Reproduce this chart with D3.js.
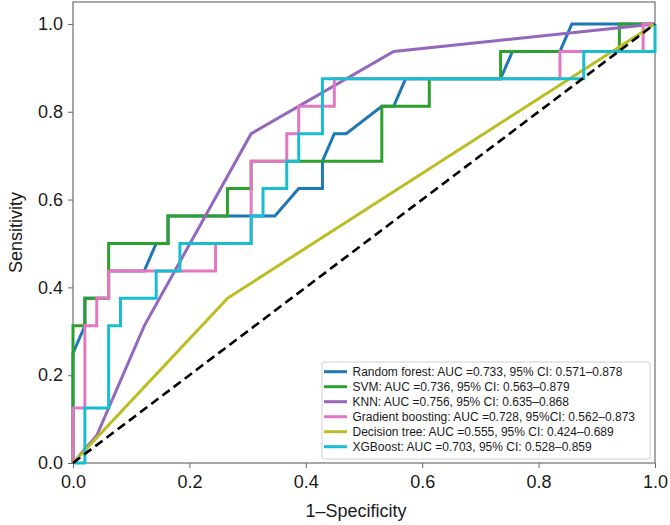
<!DOCTYPE html>
<html>
<head>
<meta charset="utf-8">
<script src="https://cdn.jsdelivr.net/npm/d3@7"></script>
<style>
  html, body { margin: 0; padding: 0; background: #fff; }
  svg { display: block; font-family: "Liberation Sans", Arial, Helvetica, sans-serif; }
</style>
</head>
<body>
<svg id="chart" width="670" height="525"></svg>
<script>
// ---- data ----
const modelNames = ["Random forest", "SVM", "KNN", "Gradient boosting", "Decision tree", "XGBoost"];
const legendLabels = [
  "Random forest: AUC =0.733, 95% CI: 0.571\u20130.878",
  "SVM: AUC =0.736, 95% CI: 0.563\u20130.879",
  "KNN: AUC =0.756, 95% CI: 0.635\u20130.868",
  "Gradient boosting: AUC =0.728, 95%CI: 0.562\u20130.873",
  "Decision tree: AUC =0.555, 95% CI: 0.424\u20130.689",
  "XGBoost: AUC =0.703, 95% CI: 0.528\u20130.859"
];
const colors = ["#1f77b4", "#2ca02c", "#9467bd", "#e377c2", "#bcbd22", "#17becf"];

const rfFpr  = [0, 0, 0.0204, 0.0204, 0.0612, 0.0612, 0.1224, 0.1429, 0.1633, 0.1633, 0.3469, 0.3878, 0.4286, 0.4286, 0.4490, 0.4694, 0.5306, 0.5510, 0.5714, 0.7347, 0.7551, 0.8367, 0.8571, 1];
const rfTpr  = [0, 0.25, 0.3125, 0.375, 0.375, 0.4375, 0.4375, 0.5, 0.5, 0.5625, 0.5625, 0.625, 0.625, 0.6875, 0.75, 0.75, 0.8125, 0.8125, 0.875, 0.875, 0.9375, 0.9375, 1, 1];

const svmFpr = [0, 0, 0.0204, 0.0204, 0.0612, 0.0612, 0.1633, 0.1633, 0.2653, 0.2653, 0.3061, 0.3061, 0.5306, 0.5306, 0.6122, 0.6122, 0.7347, 0.7347, 0.9388, 0.9388, 1];
const svmTpr = [0, 0.3125, 0.3125, 0.375, 0.375, 0.5, 0.5, 0.5625, 0.5625, 0.625, 0.625, 0.6875, 0.6875, 0.8125, 0.8125, 0.875, 0.875, 0.9375, 0.9375, 1, 1];

const knnFpr = [0, 0.0408, 0.1224, 0.3061, 0.5510, 1];
const knnTpr = [0, 0.0625, 0.3125, 0.75, 0.9375, 1];

const gbFpr  = [0, 0, 0.0204, 0.0204, 0.0408, 0.0408, 0.0612, 0.0612, 0.2449, 0.2449, 0.3061, 0.3061, 0.3673, 0.3673, 0.3878, 0.3878, 0.4490, 0.4490, 0.8367, 0.8367, 0.9796, 0.9796, 1];
const gbTpr  = [0, 0.125, 0.125, 0.3125, 0.3125, 0.375, 0.375, 0.4375, 0.4375, 0.5, 0.5, 0.6875, 0.6875, 0.75, 0.75, 0.8125, 0.8125, 0.875, 0.875, 0.9375, 0.9375, 1, 1];

const dtFpr  = [0, 0.2653, 1];
const dtTpr  = [0, 0.375, 1];

const xgbFpr = [0, 0.0204, 0.0204, 0.0612, 0.0612, 0.0816, 0.0816, 0.1429, 0.1429, 0.1837, 0.1837, 0.3061, 0.3061, 0.3265, 0.3265, 0.3673, 0.3673, 0.3878, 0.3878, 0.4286, 0.4286, 0.8776, 0.8776, 1, 1];
const xgbTpr = [0, 0, 0.125, 0.125, 0.3125, 0.3125, 0.375, 0.375, 0.4375, 0.4375, 0.5, 0.5, 0.5625, 0.5625, 0.625, 0.625, 0.6875, 0.6875, 0.75, 0.75, 0.875, 0.875, 0.9375, 0.9375, 1];

const chanceFpr = [0, 1];
const chanceTpr = [0, 1];

const xTicks = [0, 0.2, 0.4, 0.6, 0.8, 1.0];
const yTicks = [0, 0.2, 0.4, 0.6, 0.8, 1.0];
const xTitle = "1\u2013Specificity";
const yTitle = "Sensitivity";

const fprs = [rfFpr, svmFpr, knnFpr, gbFpr, dtFpr, xgbFpr];
const tprs = [rfTpr, svmTpr, knnTpr, gbTpr, dtTpr, xgbTpr];

// ---- layout ----
const L = 73, R = 655, T = 2, B = 463;
const svg = d3.select("#chart");
const x = d3.scaleLinear().domain([0, 1]).range([L, R]);
const y = d3.scaleLinear().domain([0, 1.05]).range([B, T]);

// axes
const xAxis = svg.append("g").attr("transform", `translate(0,${B})`)
  .call(d3.axisBottom(x).tickValues(xTicks).tickFormat(d3.format(".1f")).tickSizeOuter(0).tickSize(5).tickPadding(7));
const yAxis = svg.append("g").attr("transform", `translate(${L},0)`)
  .call(d3.axisLeft(y).tickValues(yTicks).tickFormat(d3.format(".1f")).tickSizeOuter(0).tickSize(5).tickPadding(5));
[xAxis, yAxis].forEach(g => {
  g.select(".domain").remove();
  g.selectAll(".tick line").attr("stroke", "#666").attr("stroke-width", 1);
  g.selectAll(".tick text").attr("fill", "#1a1a1a").style("font-size", "18px")
    .style("font-family", "'Liberation Sans', Arial, sans-serif");
});

// frame
svg.append("rect").attr("x", L).attr("y", T).attr("width", R - L).attr("height", B - T)
  .attr("fill", "none").attr("stroke", "#6e6e6e").attr("stroke-width", 1.2);

// curves
const line = d3.line().x(d => x(d[0])).y(d => y(d[1]));
const plot = svg.append("g");
fprs.forEach((f, i) => {
  const pts = f.map((v, j) => [v, tprs[i][j]]);
  plot.append("path").datum(pts).attr("d", line)
    .attr("fill", "none").attr("stroke", colors[i]).attr("stroke-width", 3)
    .attr("stroke-linejoin", "miter");
});
plot.append("path").datum(chanceFpr.map((v, j) => [v, chanceTpr[j]])).attr("d", line)
  .attr("fill", "none").attr("stroke", "#000").attr("stroke-width", 2.6)
  .attr("stroke-dasharray", "9,5");

// titles
svg.append("text").attr("x", 356).attr("y", 517).attr("text-anchor", "middle")
  .style("font-size", "18px").attr("fill", "#1a1a1a").text(xTitle);
svg.append("text").attr("transform", `translate(22,${(T + B) / 2}) rotate(-90)`)
  .attr("text-anchor", "middle").style("font-size", "18px").attr("fill", "#1a1a1a").text(yTitle);

// legend
const lg = svg.append("g");
lg.append("rect").attr("x", 322).attr("y", 362).attr("width", 328).attr("height", 97)
  .attr("rx", 2).attr("fill", "#fff").attr("stroke", "#cfcfcf").attr("stroke-width", 1);
legendLabels.forEach((t, i) => {
  const cy = 371.7 + i * 15;
  lg.append("line").attr("x1", 324).attr("x2", 347).attr("y1", cy).attr("y2", cy)
    .attr("stroke", colors[i]).attr("stroke-width", 3);
  lg.append("text").attr("x", 352.5).attr("y", cy).attr("dy", "0.35em")
    .style("font-size", "12px").attr("fill", "#1a1a1a").text(t);
});
</script>
</body>
</html>
